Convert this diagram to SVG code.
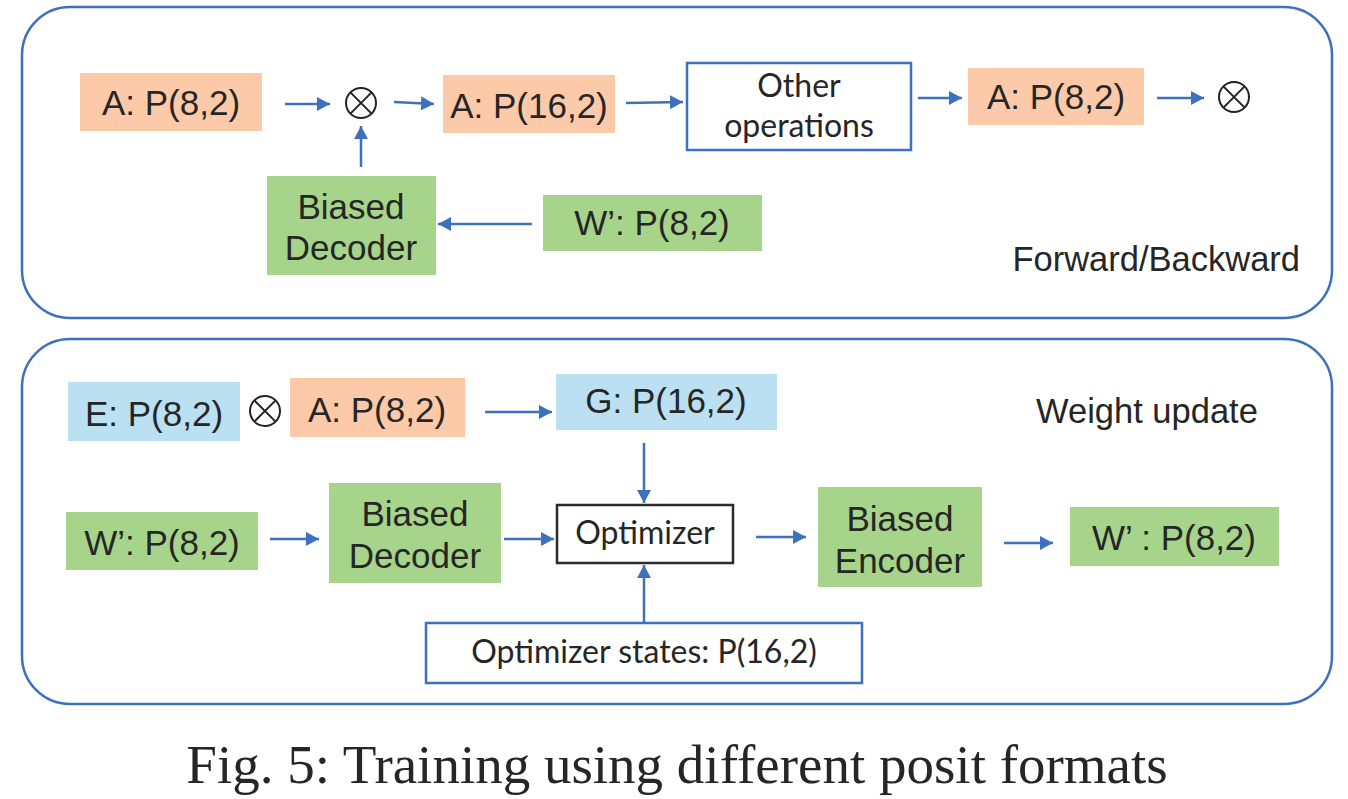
<svg xmlns="http://www.w3.org/2000/svg" width="1348" height="799" viewBox="0 0 1348 799">
<defs>
<style>
.panel{fill:#fff;stroke:#3d70bf;stroke-width:2.5}
.org{fill:#fdcaa9}
.grn{fill:#a6d48b}
.blu{fill:#bae0f2}
.wbox{fill:#fff;stroke:#3d70bf;stroke-width:2.5}
.kbox{fill:#fff;stroke:#2b2b2b;stroke-width:2.5}
.t{font-family:"Liberation Sans",Arial,sans-serif;font-size:35px;fill:#262626;text-anchor:middle}
.c{font-family:Lato,"Open Sans",sans-serif;font-size:32px;fill:#262626;text-anchor:middle}
.lbl{font-family:"Liberation Sans",Arial,sans-serif;font-size:34.5px;fill:#262626}
.cap{font-family:"Liberation Serif","Times New Roman",serif;font-size:55px;fill:#262626;text-anchor:middle}
.ar{stroke:#3d70bf;stroke-width:2.5;fill:none;marker-end:url(#ah)}
.ot{fill:none;stroke:#222;stroke-width:2}
</style>
<marker id="ah" markerUnits="userSpaceOnUse" markerWidth="14" markerHeight="14" refX="13" refY="7" orient="auto">
<path d="M0,0 L13,7 L0,14 z" fill="#3d70bf"/>
</marker>
<g id="otimes-def">
<circle cx="0" cy="0" r="15" class="ot"/>
<path d="M-10.6,-10.6 L10.6,10.6 M10.6,-10.6 L-10.6,10.6" class="ot"/>
</g>
</defs>
<rect width="1348" height="799" fill="#fff"/>

<g id="panel-forward">
<rect x="22" y="7" width="1310" height="311" rx="48" ry="48" class="panel"/>
<text class="lbl" x="1300" y="271" text-anchor="end">Forward/Backward</text>
</g>
<g id="panel-weight">
<rect x="22" y="339" width="1310" height="365" rx="48" ry="48" class="panel"/>
<text class="lbl" x="1036" y="423">Weight update</text>
</g>

<g id="connectors">
<line x1="285" y1="104" x2="330" y2="104" class="ar"/>
<line x1="394" y1="102" x2="434" y2="104" class="ar"/>
<line x1="361" y1="167" x2="361" y2="126" class="ar"/>
<line x1="626" y1="103" x2="683" y2="102" class="ar"/>
<line x1="918" y1="98" x2="962" y2="98" class="ar"/>
<line x1="1157" y1="98" x2="1204" y2="98" class="ar"/>
<line x1="532" y1="224" x2="438" y2="224" class="ar"/>
<line x1="485" y1="412" x2="552" y2="412" class="ar"/>
<line x1="644" y1="443" x2="644" y2="503" class="ar"/>
<line x1="644" y1="623" x2="644" y2="565" class="ar"/>
<line x1="270" y1="539" x2="319" y2="539" class="ar"/>
<line x1="504" y1="539" x2="554" y2="539" class="ar"/>
<line x1="756" y1="537" x2="806" y2="537" class="ar"/>
<line x1="1004" y1="543" x2="1053" y2="543" class="ar"/>
</g>

<g id="fb-a82"><rect x="80" y="73" width="182" height="58" class="org"/><text class="t" x="171" y="115">A: P(8,2)</text></g>
<g id="fb-mul1"><use href="#otimes-def" x="361" y="103"/></g>
<g id="fb-a162"><rect x="443" y="75" width="172" height="58" class="org"/><text class="t" x="529" y="118">A: P(16,2)</text></g>
<g id="fb-other"><rect x="687" y="63" width="224" height="87" class="wbox"/><text class="c" x="799" y="97">Other</text><text class="c" x="799" y="137">operations</text></g>
<g id="fb-a82b"><rect x="968" y="68" width="176" height="57" class="org"/><text class="t" x="1056" y="109">A: P(8,2)</text></g>
<g id="fb-mul2"><use href="#otimes-def" x="1234" y="97"/></g>
<g id="fb-dec"><rect x="267" y="176" width="169" height="99" class="grn"/><text class="t" x="351" y="219">Biased</text><text class="t" x="351" y="260">Decoder</text></g>
<g id="fb-w"><rect x="543" y="195" width="219" height="56" class="grn"/><text class="t" x="652" y="235">W’: P(8,2)</text></g>

<g id="wu-e"><rect x="68" y="382" width="172" height="59" class="blu"/><text class="t" x="154" y="426">E: P(8,2)</text></g>
<g id="wu-mul"><use href="#otimes-def" x="265" y="411"/></g>
<g id="wu-a"><rect x="290" y="378" width="175" height="59" class="org"/><text class="t" x="377" y="422">A: P(8,2)</text></g>
<g id="wu-g"><rect x="556" y="374" width="221" height="56" class="blu"/><text class="t" x="666" y="413">G: P(16,2)</text></g>
<g id="wu-w"><rect x="66" y="512" width="192" height="58" class="grn"/><text class="t" x="162" y="555">W’: P(8,2)</text></g>
<g id="wu-dec"><rect x="329" y="483" width="172" height="100" class="grn"/><text class="t" x="415" y="526">Biased</text><text class="t" x="415" y="568">Decoder</text></g>
<g id="wu-opt"><rect x="557" y="505" width="176" height="58" class="kbox"/><text class="c" x="645" y="544">Optimizer</text></g>
<g id="wu-states"><rect x="426" y="623" width="436" height="60" class="wbox"/><text class="c" x="644" y="663">Optimizer states: P(16,2)</text></g>
<g id="wu-enc"><rect x="818" y="487" width="164" height="100" class="grn"/><text class="t" x="900" y="531">Biased</text><text class="t" x="900" y="573">Encoder</text></g>
<g id="wu-w2"><rect x="1070" y="507" width="209" height="59" class="grn"/><text class="t" x="1174" y="550">W’ : P(8,2)</text></g>

<text class="cap" x="677" y="783">Fig. 5: Training using different posit formats</text>
</svg>
